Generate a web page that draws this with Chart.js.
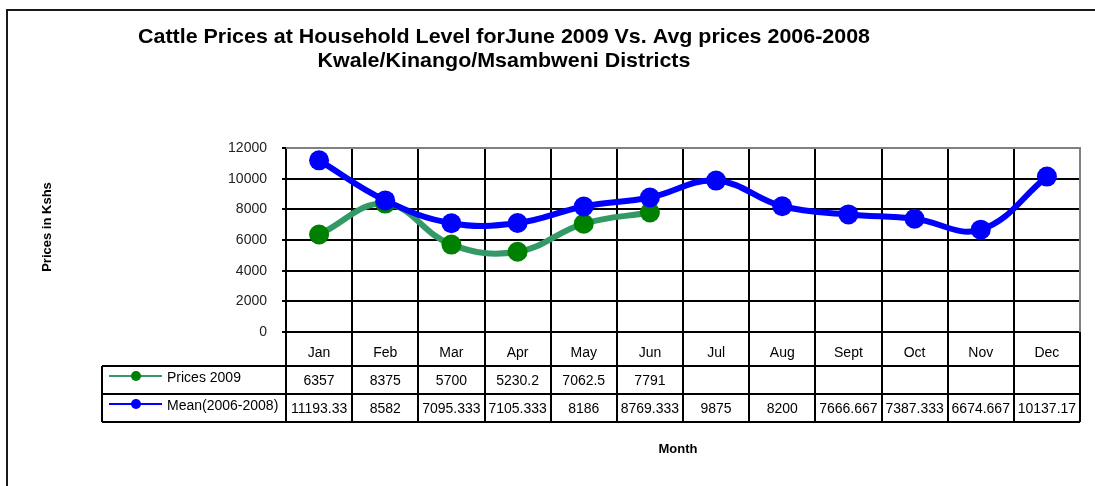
<!DOCTYPE html>
<html>
<head>
<meta charset="utf-8">
<script src="https://cdn.jsdelivr.net/npm/chart.js@4/dist/chart.umd.min.js"></script>
<style>
  body { margin: 0; background: #fff; }
  #wrap { width: 1095px; height: 486px; position: relative; }
</style>
</head>
<body>
<div id="wrap"><canvas id="cattleChart"></canvas></div>
<script>
// Chart data
const months = ['Jan', 'Feb', 'Mar', 'Apr', 'May', 'Jun', 'Jul', 'Aug', 'Sept', 'Oct', 'Nov', 'Dec'];
const prices2009 = [6357, 8375, 5700, 5230.2, 7062.5, 7791, null, null, null, null, null, null];
const mean0608 = [11193.33, 8582, 7095.333, 7105.333, 8186, 8769.333, 9875, 8200, 7666.667, 7387.333, 6674.667, 10137.17];
const yTicks = [0, 2000, 4000, 6000, 8000, 10000, 12000];
const titleLines = ['Cattle Prices at Household Level forJune 2009 Vs. Avg prices 2006-2008', 'Kwale/Kinango/Msambweni Districts'];

const FONT = "'Liberation Sans', Arial, sans-serif";

// Draws the title, axis titles, frame and the data table under the plot
const tablePlugin = {
    id: 'dataTable',
    beforeDatasetsDraw(chart) {
        const ctx = chart.ctx;
        const area = chart.chartArea;
        // grey plot border on top and right
        ctx.save();
        ctx.strokeStyle = '#808080';
        ctx.lineWidth = 2;
        ctx.beginPath();
        ctx.moveTo(area.left, area.top);
        ctx.lineTo(area.right, area.top);
        ctx.lineTo(area.right, area.bottom);
        ctx.stroke();
        ctx.restore();
    },
    afterDraw(chart) {
        const ctx = chart.ctx;
        const area = chart.chartArea;
        const x = chart.scales.x;
        const colW = area.width / months.length;
        const headTop = area.bottom;
        const row1 = headTop + 34;
        const row2 = row1 + 28;
        const row3 = row2 + 28;
        const legLeft = 102;

        ctx.save();
        // outer frame (top and left)
        ctx.strokeStyle = '#1a1a1a';
        ctx.lineWidth = 2;
        ctx.beginPath();
        ctx.moveTo(7, 486);
        ctx.lineTo(7, 10);
        ctx.lineTo(1095, 10);
        ctx.stroke();

        // title
        ctx.fillStyle = '#000';
        ctx.font = 'bold 21px ' + FONT;
        const w0 = ctx.measureText(titleLines[0]).width;
        const squeeze = 732 / w0;
        ctx.textAlign = 'center';
        ctx.textBaseline = 'alphabetic';
        [43, 67].forEach((by, i) => {
            ctx.save();
            ctx.translate(504, by);
            ctx.scale(squeeze, 1);
            ctx.fillText(titleLines[i], 0, 0);
            ctx.restore();
        });

        // axis titles
        ctx.textBaseline = 'middle';
        ctx.font = 'bold 13px ' + FONT;
        ctx.fillText('Month', 678, 449);
        ctx.font = 'bold 13px ' + FONT;
        ctx.save();
        ctx.translate(47, 227);
        ctx.rotate(-Math.PI / 2);
        ctx.fillText('Prices in Kshs', 0, 0);
        ctx.restore();

        // table grid
        ctx.strokeStyle = '#000';
        ctx.lineWidth = 2;
        ctx.beginPath();
        for (let i = 0; i <= months.length; i++) {
            const bx = Math.round(area.left + i * colW);
            ctx.moveTo(bx, headTop);
            ctx.lineTo(bx, row3);
        }
        [row1, row2, row3].forEach(ry => {
            ctx.moveTo(legLeft, ry);
            ctx.lineTo(area.right, ry);
        });
        ctx.moveTo(legLeft, row1);
        ctx.lineTo(legLeft, row3);
        ctx.stroke();

        // month labels and values
        ctx.font = '14px ' + FONT;
        ctx.fillStyle = '#000';
        ctx.textAlign = 'center';
        months.forEach((m, i) => {
            const cx = x.getPixelForValue(i);
            ctx.fillText(m, cx, headTop + 21);
            if (prices2009[i] !== null) ctx.fillText(String(prices2009[i]), cx, row1 + 15);
            if (mean0608[i] !== null) ctx.fillText(String(mean0608[i]), cx, row2 + 15);
        });

        // legend keys in first column
        const keys = [
            { label: 'Prices 2009', line: '#339966', dot: '#008000', y: row1 + 14 },
            { label: 'Mean(2006-2008)', line: '#0000FF', dot: '#0000FF', y: row2 + 14 }
        ];
        keys.forEach(k => {
            ctx.strokeStyle = k.line;
            ctx.lineWidth = 2;
            ctx.beginPath();
            ctx.moveTo(109, k.y - 4);
            ctx.lineTo(162, k.y - 4);
            ctx.stroke();
            ctx.fillStyle = k.dot;
            ctx.beginPath();
            ctx.arc(136, k.y - 4, 5, 0, Math.PI * 2);
            ctx.fill();
            ctx.fillStyle = '#000';
            ctx.textAlign = 'left';
            ctx.fillText(k.label, 167, k.y - 2);
        });
        ctx.restore();
    }
};

new Chart(document.getElementById('cattleChart'), {
    type: 'line',
    data: {
        labels: months,
        datasets: [
            {
                label: 'Prices 2009',
                data: prices2009,
                borderColor: '#339966',
                backgroundColor: '#008000',
                pointBackgroundColor: '#008000',
                pointBorderColor: '#008000',
                borderWidth: 6,
                pointRadius: 10,
                pointBorderWidth: 0,
                tension: 0.4,
                spanGaps: false,
                order: 1
            },
            {
                label: 'Mean(2006-2008)',
                data: mean0608,
                borderColor: '#0000FF',
                backgroundColor: '#0000FF',
                pointBackgroundColor: '#0000FF',
                pointBorderColor: '#0000FF',
                borderWidth: 6,
                pointRadius: 10,
                pointBorderWidth: 0,
                tension: 0.4,
                order: 0
            }
        ]
    },
    options: {
        responsive: true,
        maintainAspectRatio: false,
        animation: false,
        layout: {
            padding: { left: 216, right: 15, top: 148, bottom: 154 }
        },
        scales: {
            x: {
                offset: true,
                grid: {
                    offset: true,
                    color: '#000',
                    lineWidth: 2,
                    drawTicks: false
                },
                border: { color: '#000', width: 2 },
                ticks: { display: false }
            },
            y: {
                min: 0,
                max: 12000,
                afterFit(scale) { scale.width = 70; },
                afterBuildTicks(scale) { scale.ticks = yTicks.map(v => ({ value: v })); },
                grid: {
                    color: '#000',
                    lineWidth: 2,
                    tickLength: 4
                },
                border: { color: '#000', width: 2 },
                ticks: {
                    color: '#222',
                    padding: 15,
                    font: { family: FONT, size: 14 },
                    callback: function(value) {
                        return String(value);
                    }
                }
            }
        },
        plugins: {
            legend: { display: false },
            title: { display: false },
            tooltip: { enabled: false }
        }
    },
    plugins: [tablePlugin]
});
</script>
</body>
</html>
